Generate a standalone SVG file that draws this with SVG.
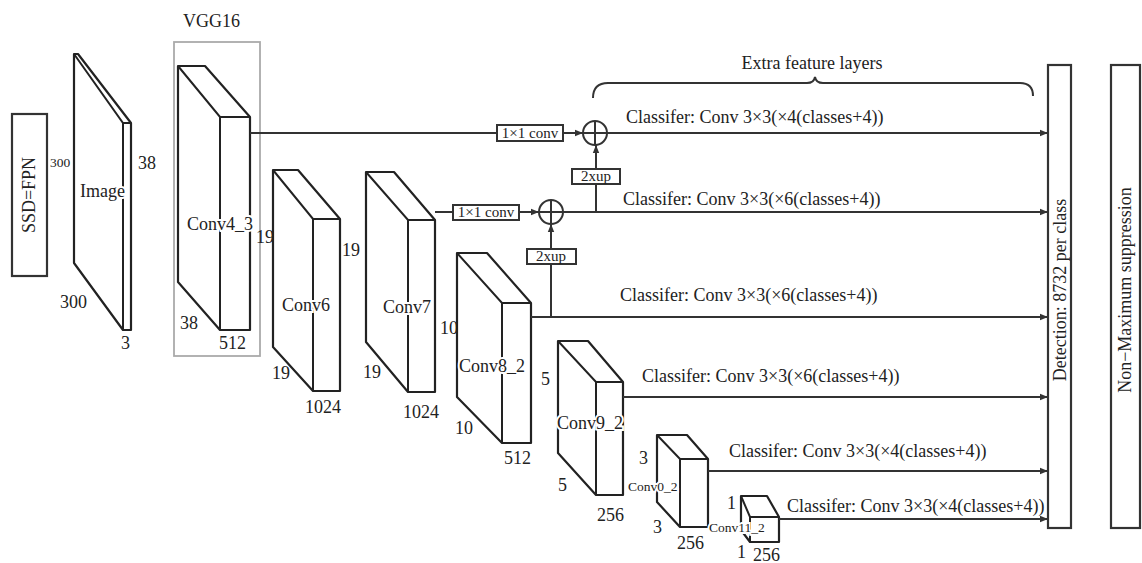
<svg xmlns="http://www.w3.org/2000/svg" width="1142" height="563" viewBox="0 0 1142 563" font-family="'Liberation Serif', 'DejaVu Serif', serif">
<defs>
<style>
text{font-family:'Liberation Serif', 'DejaVu Serif', serif;fill:#222;font-size:18px}
.sm{font-size:13.5px}
.bx{font-size:15px}
.lbl{paint-order:stroke;stroke:#fff;stroke-width:4px}
.slab{fill:#fff;stroke:#222;stroke-width:2.2;stroke-linejoin:round}
.in{fill:none;stroke:#222;stroke-width:2}
.conn{fill:none;stroke:#333;stroke-width:2}
.box{fill:#fff;stroke:#333;stroke-width:2}
.big{fill:#fff;stroke:#333;stroke-width:2.2}
</style>
<marker id="ah" viewBox="0 0 10 10" refX="10" refY="5" markerWidth="4" markerHeight="4" orient="auto" markerUnits="strokeWidth">
<path d="M0,1 L10,5 L0,9 z" fill="#333"/>
</marker>
</defs>
<rect width="1142" height="563" fill="#fff"/>

<g id="ssd">
<rect class="big" x="12" y="114" width="35" height="162"/>
<text transform="translate(35,195) rotate(-90)" text-anchor="middle">SSD=FPN</text>
</g>

<g id="image">
<path class="slab" d="M74,54 L78,54 L131,123 L131,330 L123,330 L74,263 Z"/>
<path class="in" d="M74,54 L123,123 L131,123 M123,123 L123,330"/>
<text class="sm" x="50" y="167">300</text>
<text class="lbl" x="80" y="197">Image</text>
<text x="138" y="169">38</text>
<text x="60" y="308">300</text>
<text x="121" y="349">3</text>
</g>

<g id="vgg16">
<rect x="174" y="42" width="86" height="314" fill="none" stroke="#aaa" stroke-width="1.8"/>
<text x="183" y="27">VGG16</text>
</g>

<g id="conv4_3">
<path class="slab" d="M178,66 L205,66 L250,117 L250,330 L220,330 L178,282 Z"/>
<path class="in" d="M178,66 L220,117 L250,117 M220,117 L220,330"/>
<text class="lbl" x="187" y="230">Conv4_3</text>
<text x="180" y="329">38</text>
<text x="219" y="349">512</text>
</g>

<g id="conv6">
<path class="slab" d="M273,170 L298,170 L340,219 L340,391 L313,391 L273,347 Z"/>
<path class="in" d="M273,170 L313,219 L340,219 M313,219 L313,391"/>
<text class="lbl" x="282" y="311">Conv6</text>
<text x="256" y="243">19</text>
<text x="272" y="379">19</text>
<text x="305" y="413">1024</text>
</g>

<g id="conv7">
<path class="slab" d="M366,172 L394,172 L435,220 L435,392 L408,392 L366,342 Z"/>
<path class="in" d="M366,172 L408,220 L435,220 M408,220 L408,392"/>
<text class="lbl" x="383" y="313">Conv7</text>
<text x="342" y="256">19</text>
<text x="363" y="378">19</text>
<text x="403" y="418">1024</text>
</g>

<g id="conv8_2">
<path class="slab" d="M457,253 L487,253 L531,303 L531,443 L502,443 L457,397 Z"/>
<path class="in" d="M457,253 L502,303 L531,303 M502,303 L502,443"/>
<text class="lbl" x="459" y="372">Conv8_2</text>
<text x="440" y="334">10</text>
<text x="455" y="434">10</text>
<text x="504" y="464">512</text>
</g>

<g id="conv9_2">
<path class="slab" d="M558,341 L588,341 L623,382 L623,495 L596,495 L558,453 Z"/>
<path class="in" d="M558,341 L596,382 L623,382 M596,382 L596,495"/>
<text class="lbl" x="557" y="429">Conv9_2</text>
<text x="541" y="385">5</text>
<text x="558" y="491">5</text>
<text x="597" y="521">256</text>
</g>

<g id="conv10_2">
<path class="slab" d="M657,435 L687,435 L708,459 L708,527 L680,527 L657,502 Z"/>
<path class="in" d="M657,435 L680,459 L708,459 M680,459 L680,527"/>
<text class="sm lbl" x="628" y="491">Conv0_2</text>
<text x="639" y="464">3</text>
<text x="653" y="533">3</text>
<text x="677" y="549">256</text>
</g>

<g id="conv11_2">
<path class="slab" d="M741,496 L767,496 L779,517 L779,542 L750,542 L741,530 Z"/>
<path class="in" d="M741,496 L750,517 L779,517 M750,517 L750,542"/>
<text class="sm lbl" x="709" y="532">Conv11_2</text>
<text x="727" y="509">1</text>
<text x="737" y="558">1</text>
<text x="753" y="561">256</text>
</g>

<g id="connectors">
<path class="conn" d="M250,133 L497,133"/>
<path class="conn" d="M563,133 L583,133" marker-end="url(#ah)"/>
<path class="conn" d="M607,133 L1048,133" marker-end="url(#ah)"/>
<path class="conn" d="M435,212 L453,212"/>
<path class="conn" d="M519,212 L539,212" marker-end="url(#ah)"/>
<path class="conn" d="M563,212 L1048,212" marker-end="url(#ah)"/>
<path class="conn" d="M531,317 L1048,317" marker-end="url(#ah)"/>
<path class="conn" d="M596,212 L596,145" marker-end="url(#ah)"/>
<path class="conn" d="M551,317 L551,224" marker-end="url(#ah)"/>
<path class="conn" d="M623,397 L1048,397" marker-end="url(#ah)"/>
<path class="conn" d="M708,471 L1048,471" marker-end="url(#ah)"/>
<path class="conn" d="M779,519 L1048,519" marker-end="url(#ah)"/>
<path class="conn" d="M593,98 Q593,83 608,83 L807,83 Q814,83 815,77 Q816,83 823,83 L1020,83 Q1033,83 1033,96"/>
</g>

<g id="conv1x1_a">
<rect class="box" x="497" y="125" width="66" height="16"/>
<text class="bx" x="530" y="138" text-anchor="middle">1×1 conv</text>
</g>
<g id="sum_a">
<circle cx="595" cy="133" r="12" fill="#fff" stroke="#333" stroke-width="2"/>
<path class="conn" d="M583,133 L607,133 M595,121 L595,145"/>
</g>
<g id="up_a">
<rect class="box" x="572" y="169" width="48" height="15"/>
<text class="bx" x="596" y="181" text-anchor="middle">2xup</text>
</g>

<g id="conv1x1_b">
<rect class="box" x="453" y="205" width="66" height="15"/>
<text class="bx" x="486" y="217" text-anchor="middle">1×1 conv</text>
</g>
<g id="sum_b">
<circle cx="551" cy="212" r="12" fill="#fff" stroke="#333" stroke-width="2"/>
<path class="conn" d="M539,212 L563,212 M551,200 L551,224"/>
</g>
<g id="up_b">
<rect class="box" x="527" y="249" width="49" height="15"/>
<text class="bx" x="551" y="261" text-anchor="middle">2xup</text>
</g>

<g id="labels">
<text x="812" y="69" text-anchor="middle">Extra feature layers</text>
<text x="626" y="123">Classifer: Conv 3×3(×4(classes+4))</text>
<text x="623" y="205">Classifer: Conv 3×3(×6(classes+4))</text>
<text x="620" y="301">Classifer: Conv 3×3(×6(classes+4))</text>
<text x="642" y="382">Classifer: Conv 3×3(×6(classes+4))</text>
<text x="729" y="457">Classifer: Conv 3×3(×4(classes+4))</text>
<text x="787" y="512">Classifer: Conv 3×3(×4(classes+4))</text>
</g>

<g id="detection">
<rect class="big" x="1048" y="65" width="23" height="463"/>
<text transform="translate(1066,290) rotate(-90)" text-anchor="middle">Detection: 8732 per class</text>
</g>

<g id="nms">
<rect class="big" x="1111" y="65" width="29" height="463"/>
<text transform="translate(1131,290) rotate(-90)" text-anchor="middle">Non−Maximum suppression</text>
</g>
</svg>
